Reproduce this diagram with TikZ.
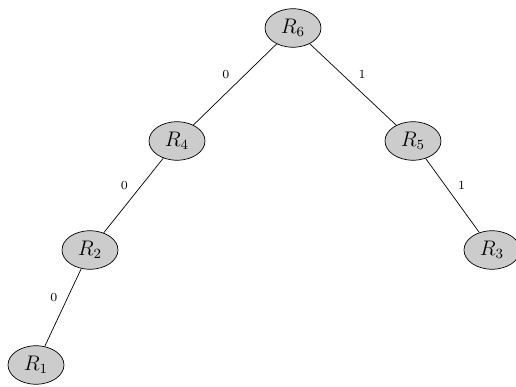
\documentclass[tikz,border=0pt]{standalone}
\usepackage{amsmath}
\usepackage{tikz}
\usetikzlibrary{arrows,shapes,positioning}
\usepackage{xcolor}
\definecolor{rgray}{RGB}{204,204,204}
\tikzstyle{rnode} = [draw, ellipse, fill=rgray, font=\large, minimum width=1.12cm, minimum height=0.77cm, inner sep=1pt]
\tikzstyle{bit} = [font=\scriptsize, inner sep=3pt]

\begin{document}
\begin{tikzpicture}
\useasboundingbox (0,0) rectangle (10.32,7.74);
% Merged rules
\node[rnode] (r6) at (5.86,7.18) {$R_6$};
\node[rnode] (r4) at (3.54,4.92) {$R_4$};
\node[rnode] (r5) at (8.26,4.92) {$R_5$};
\node[rnode] (r2) at (1.80,2.74) {$R_2$};
\node[rnode] (r3) at (9.84,2.74) {$R_3$};
\node[rnode] (r1) at (0.72,0.44) {$R_1$};

% Branches
\draw (r6) -- node[bit, above left] {0} (r4);
\draw (r6) -- node[bit, above right] {1} (r5);
\draw (r4) -- node[bit, above left] {0} (r2);
\draw (r5) -- node[bit, above right] {1} (r3);
\draw (r2) -- node[bit, above left] {0} (r1);
\end{tikzpicture}
\end{document}
